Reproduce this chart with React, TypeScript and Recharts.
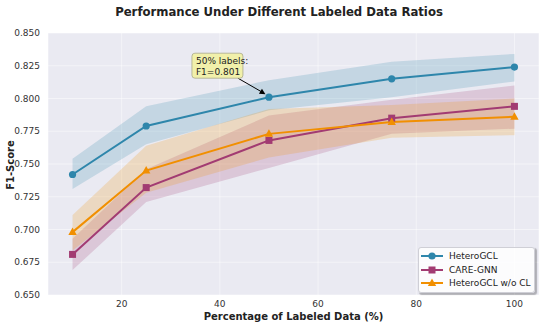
import React from 'react';
import { ComposedChart, Area, Line, XAxis, YAxis, CartesianGrid, ReferenceDot } from 'recharts';

const percentages = [10, 25, 50, 75, 100];

const heteroGCL = [0.742, 0.779, 0.801, 0.815, 0.824];
const heteroGCLLow = [0.731, 0.765, 0.791, 0.801, 0.813];
const heteroGCLHigh = [0.754, 0.794, 0.814, 0.828, 0.834];

const careGNN = [0.681, 0.732, 0.768, 0.785, 0.794];
const careGNNLow = [0.669, 0.721, 0.747, 0.773, 0.777];
const careGNNHigh = [0.693, 0.746, 0.787, 0.799, 0.810];

const noCL = [0.698, 0.745, 0.773, 0.782, 0.786];
const noCLLow = [0.684, 0.728, 0.755, 0.770, 0.772];
const noCLHigh = [0.711, 0.764, 0.792, 0.795, 0.800];

const xTicks = [20, 40, 60, 80, 100];
const yTicks = [0.65, 0.675, 0.7, 0.725, 0.75, 0.775, 0.8, 0.825, 0.85];

const BLUE = '#2E86AB';
const PINK = '#A23B72';
const ORANGE = '#F18F01';
const FONT = '"DejaVu Sans", Verdana, sans-serif';

const chartData = percentages.map((pct, i) => ({
  pct,
  hetero: heteroGCL[i],
  heteroBand: [heteroGCLLow[i], heteroGCLHigh[i]],
  care: careGNN[i],
  careBand: [careGNNLow[i], careGNNHigh[i]],
  nocl: noCL[i],
  noclBand: [noCLLow[i], noCLHigh[i]],
}));

const Marker = ({ kind, x, y, color }: { kind: string; x: number; y: number; color: string }) => {
  if (kind === 'circle') return <circle cx={x} cy={y} r={3.6} fill={color} />;
  if (kind === 'square') return <rect x={x - 3.5} y={y - 3.5} width={7} height={7} fill={color} />;
  return <polygon points={`${x},${y - 4.5} ${x + 4.2},${y + 3} ${x - 4.2},${y + 3}`} fill={color} />;
};

const makeDot = (kind: string, color: string) => (props: any) => (
  <Marker key={props.index} kind={kind} x={props.cx} y={props.cy} color={color} />
);

const legendItems = [
  { name: 'HeteroGCL', color: BLUE, kind: 'circle' },
  { name: 'CARE-GNN', color: PINK, kind: 'square' },
  { name: 'HeteroGCL w/o CL', color: ORANGE, kind: 'triangle' },
];

const LegendBox = () => (
  <div
    style={{
      position: 'absolute',
      left: 418,
      top: 247,
      width: 117,
      boxSizing: 'border-box',
      background: 'rgba(255,255,255,0.85)',
      border: '1px solid #cfcfd6',
      borderRadius: 3,
      boxShadow: '1.5px 1.5px 1px rgba(0,0,0,0.25)',
      padding: '1.5px 2px 1.5px 1px',
      fontFamily: FONT,
      fontSize: 9,
      color: '#222',
    }}
  >
    {legendItems.map((it) => (
      <div key={it.name} style={{ display: 'flex', alignItems: 'center', height: 13.5 }}>
        <svg width={24} height={10} style={{ marginRight: 5 }}>
          <line x1={1} y1={5} x2={23} y2={5} stroke={it.color} strokeWidth={2} />
          <Marker kind={it.kind} x={12} y={5} color={it.color} />
        </svg>
        <span>{it.name}</span>
      </div>
    ))}
  </div>
);

const Annotation = (props: any) => {
  const { cx, cy } = props;
  const bx = cx - 77;
  const by = cy - 44;
  return (
    <g>
      <line x1={cx - 31} y1={cy - 19} x2={cx - 5} y2={cy - 4} stroke="#000" strokeWidth={1} />
      <polygon
        points={`${cx - 3.5},${cy - 3} ${cx - 10},${cy - 3.5} ${cx - 7},${cy - 8.5}`}
        fill="#000"
      />
      <rect x={bx} y={by} width={51} height={25} rx={3} fill="rgb(241,240,170)" stroke="#a9a98a" strokeWidth={0.8} />
      <text x={bx + 4} y={by + 11} fontSize={9} fontFamily={FONT} fill="#222">50% labels:</text>
      <text x={bx + 4} y={by + 21.5} fontSize={9} fontFamily={FONT} fill="#222">F1=0.801</text>
    </g>
  );
};

export default function App() {
  return (
    <div style={{ position: 'absolute', left: 0, top: 0, width: 550, height: 330, background: '#fff' }}>
      <div
        style={{
          position: 'absolute',
          left: 4,
          top: 5,
          width: 550,
          textAlign: 'center',
          fontFamily: FONT,
          fontWeight: 'bold',
          fontSize: 11.7,
          color: '#222',
        }}
      >
        Performance Under Different Labeled Data Ratios
      </div>
      <div
        style={{
          position: 'absolute',
          left: 10,
          top: 165,
          transform: 'translate(-50%, -50%) rotate(-90deg)',
          fontFamily: FONT,
          fontWeight: 'bold',
          fontSize: 10,
          color: '#222',
          whiteSpace: 'nowrap',
        }}
      >
        F1-Score
      </div>
      <ComposedChart
        width={550}
        height={330}
        data={chartData}
        margin={{ top: 33, right: 11, bottom: 0, left: 0 }}
      >
        <CartesianGrid fill="#EAEAF2" stroke="#ffffff" strokeOpacity={0.6} strokeWidth={0.8} />
        <XAxis
          dataKey="pct"
          type="number"
          domain={[5, 105]}
          ticks={xTicks}
          height={35}
          tickLine={false}
          axisLine={false}
          tick={{ fontSize: 9, fontFamily: FONT, fill: '#333' }}
          tickMargin={0}
          label={{
            value: 'Percentage of Labeled Data (%)',
            position: 'insideBottom',
            offset: 10,
            style: { fontSize: 10, fontWeight: 'bold', fontFamily: FONT, fill: '#222' },
          }}
        />
        <YAxis
          type="number"
          domain={[0.65, 0.85]}
          ticks={yTicks}
          width={48}
          tickLine={false}
          axisLine={false}
          tickMargin={2}
          tickFormatter={(v: number) => v.toFixed(3)}
          tick={{ fontSize: 9, fontFamily: FONT, fill: '#333' }}
        />
        <Area type="linear" dataKey="heteroBand" stroke="none" fill={BLUE} fillOpacity={0.2} isAnimationActive={false} />
        <Area type="linear" dataKey="careBand" stroke="none" fill={PINK} fillOpacity={0.2} isAnimationActive={false} />
        <Area type="linear" dataKey="noclBand" stroke="none" fill={ORANGE} fillOpacity={0.2} isAnimationActive={false} />
        <Line type="linear" dataKey="hetero" stroke={BLUE} strokeWidth={2} dot={makeDot('circle', BLUE)} activeDot={false} isAnimationActive={false} />
        <Line type="linear" dataKey="care" stroke={PINK} strokeWidth={2} dot={makeDot('square', PINK)} activeDot={false} isAnimationActive={false} />
        <Line type="linear" dataKey="nocl" stroke={ORANGE} strokeWidth={2} dot={makeDot('triangle', ORANGE)} activeDot={false} isAnimationActive={false} />
        <ReferenceDot x={50} y={0.801} r={0} shape={Annotation} />
      </ComposedChart>
      <LegendBox />
    </div>
  );
}
